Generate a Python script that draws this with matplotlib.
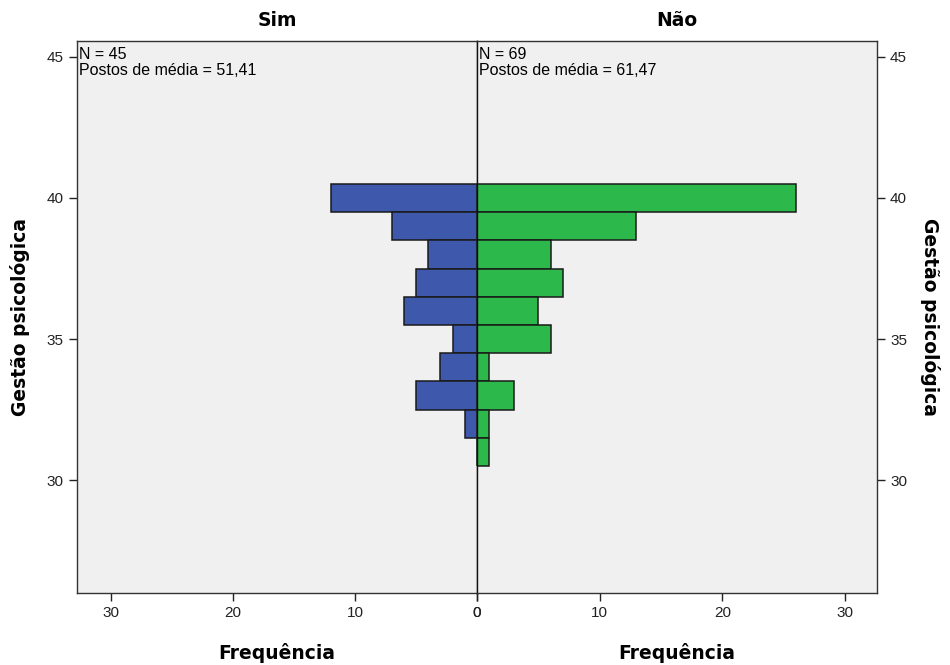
import matplotlib.pyplot as plt

plt.rcParams['font.family'] = ['Liberation Sans', 'DejaVu Sans']

# frequency of each score, per group
scores = [40, 39, 38, 37, 36, 35, 34, 33, 32, 31]
sim_freq = [12, 7, 4, 5, 6, 2, 3, 5, 1, 0]
nao_freq = [26, 13, 6, 7, 5, 6, 1, 3, 1, 1]
groups = ['Sim', 'Não']
n_vals = [45, 69]
mean_ranks = ['51,41', '61,47']

blue = '#3e58ac'
green = '#2db84b'
bg = '#f0f0f0'
bold = dict(family='DejaVu Sans', fontsize=13.5, fontweight='bold')

fig = plt.figure(figsize=(9.5, 6.65), dpi=100)
ax_l = fig.add_axes([0.081, 0.108, 0.421, 0.830])
ax_r = fig.add_axes([0.502, 0.108, 0.421, 0.830])

ax_l.barh(scores, sim_freq, height=1.0, color=blue, edgecolor='#1a1a1a', linewidth=1.1)
ax_r.barh(scores, nao_freq, height=1.0, color=green, edgecolor='#1a1a1a', linewidth=1.1)

ax_l.set_xlim(32.8, 0)
ax_r.set_xlim(0, 32.6)

for ax, name, n, mr in zip([ax_l, ax_r], groups, n_vals, mean_ranks):
    ax.set_facecolor(bg)
    ax.set_ylim(26.0, 45.55)
    ax.set_yticks([30, 35, 40, 45])
    ax.set_xticks([0, 10, 20, 30])
    ax.tick_params(length=6, width=1, labelsize=11, colors='#222222', direction='out')
    for s in ax.spines.values():
        s.set_color('#333333')
        s.set_linewidth(1.0)
    ax.set_title(name, pad=11, **bold)
    ax.set_xlabel('Frequência', labelpad=16, **bold)
    ax.text(0.005, 0.989, f'N = {n}\nPostos de média = {mr}', transform=ax.transAxes,
            ha='left', va='top', fontsize=11.5, linespacing=1.05)

ax_l.set_ylabel('Gestão psicológica', labelpad=12, **bold)
ax_r.yaxis.tick_right()
ax_r.yaxis.set_label_position('right')
ax_r.set_ylabel('Gestão psicológica', rotation=270, labelpad=24, **bold)
ax_r.spines['left'].set_color('#111111')

fig.savefig('out.png', dpi=100, facecolor='white')
